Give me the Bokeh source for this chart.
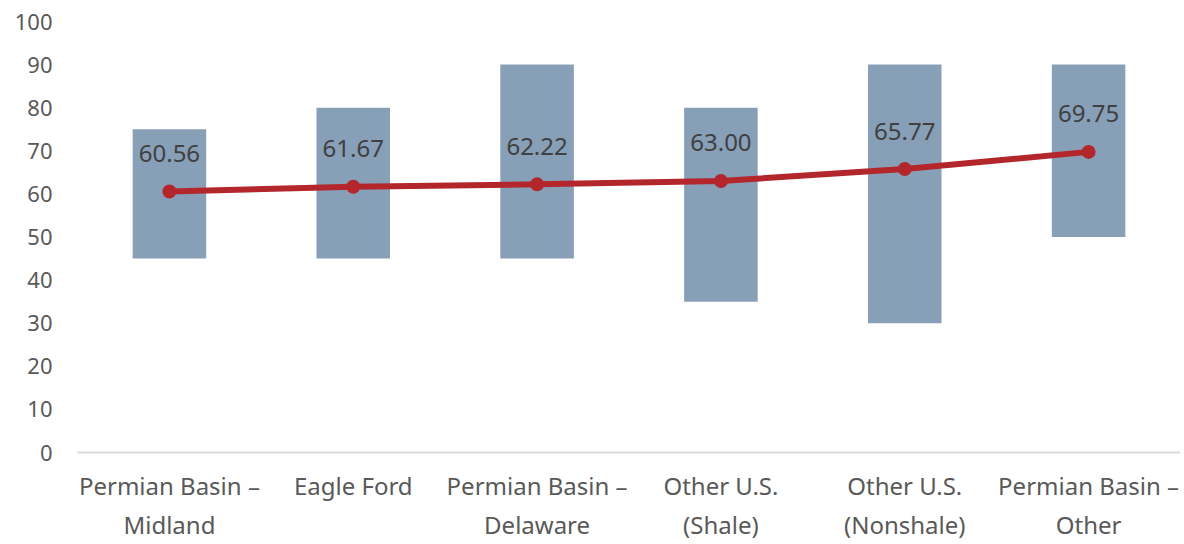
from bokeh.plotting import figure
from bokeh.models import Range1d, FactorRange, ColumnDataSource
from bokeh.core.properties import value
from bokeh.embed import file_html
from bokeh.resources import INLINE

categories = ["Permian Basin –\nMidland", "Eagle Ford", "Permian Basin –\nDelaware",
              "Other U.S.\n(Shale)", "Other U.S.\n(Nonshale)", "Permian Basin –\nOther"]
low_values = [45, 45, 45, 35, 30, 50]
high_values = [75, 80, 90, 80, 90, 90]
avg_values = [60.56, 61.67, 62.22, 63.00, 65.77, 69.75]
avg_labels = [f"{v:.2f}" for v in avg_values]

FONT = "Noto Sans"

src = ColumnDataSource(dict(cat=categories, low=low_values, high=high_values,
                            avg=avg_values, lab=avg_labels))

p = figure(x_range=FactorRange(*categories, range_padding=0), y_range=Range1d(0, 100),
           width=1180, height=544, output_backend="svg", toolbar_location=None,
           min_border_left=77, min_border_right=0, min_border_top=21, min_border_bottom=90)

p.vbar(x="cat", bottom="low", top="high", width=0.4, source=src,
       fill_color="#879FB7", line_color=None)
p.line(x="cat", y="avg", source=src, line_color="#B3262C", line_width=6)
p.scatter(x="cat", y="avg", source=src, size=14, fill_color="#B3262C", line_color=None)
p.text(x="cat", y="avg", text="lab", source=src, y_offset=-38,
       text_align="center", text_baseline="middle", text_font=value(FONT),
       text_font_size="24px", text_color="#404040")

p.outline_line_color = None
p.xgrid.grid_line_color = None
p.ygrid.grid_line_color = None

p.yaxis.ticker = list(range(0, 101, 10))
p.yaxis.axis_line_color = None
p.yaxis.major_tick_line_color = None
p.yaxis.minor_tick_line_color = None
p.yaxis.major_label_text_font = FONT
p.yaxis.major_label_text_font_size = "22px"
p.yaxis.major_label_text_color = "#595959"
p.yaxis.major_label_standoff = 19

p.xaxis.axis_line_color = "#D9D9D9"
p.xaxis.axis_line_width = 2
p.xaxis.major_tick_line_color = None
p.xaxis.minor_tick_line_color = None
p.xaxis.major_label_text_font = FONT
p.xaxis.major_label_text_font_size = "24px"
p.xaxis.major_label_text_color = "#595959"
p.xaxis.major_label_standoff = 10

open("out.html", "w").write(file_html(p, INLINE))
